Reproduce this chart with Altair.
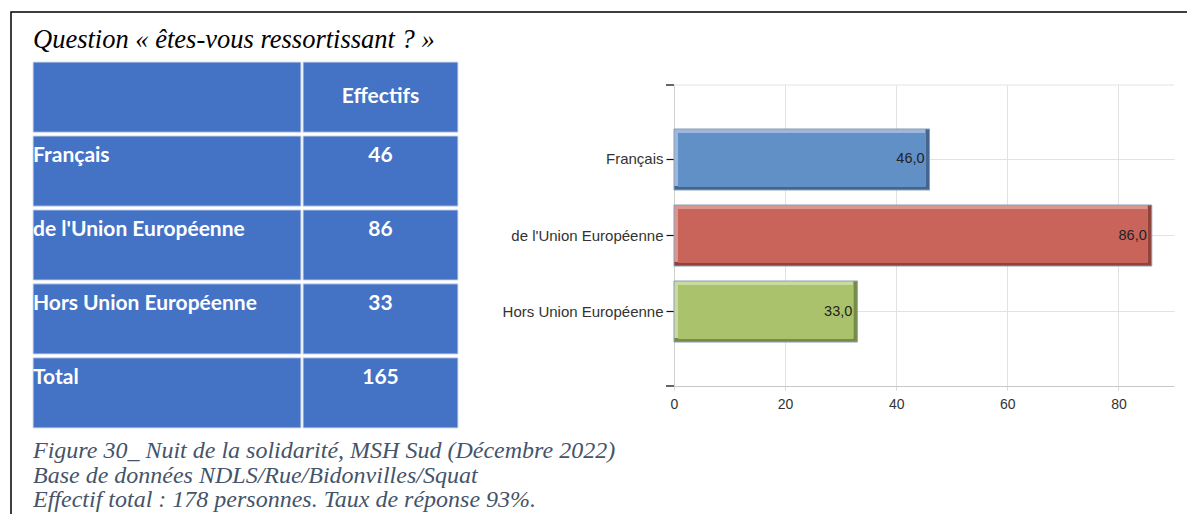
import altair as alt
import pandas as pd

# ---------------- data ----------------
title_text = "Question « êtes-vous ressortissant ? »"
categories = ["Français", "de l'Union Européenne", "Hors Union Européenne"]
counts = [46, 86, 33]
total_label = "Total"
total_count = 165
header_label = "Effectifs"
caption_lines = [
    "Figure 30_ Nuit de la solidarité, MSH Sud (Décembre 2022)",
    "Base de données NDLS/Rue/Bidonvilles/Squat",
    "Effectif total : 178 personnes. Taux de réponse 93%.",
]
x_ticks = [0, 20, 40, 60, 80]

# ---------------- styles ----------------
body_colors = ["#6090C6", "#C9645B", "#AAC26B"]
light_colors = ["#9CB7DB", "#DC958E", "#C9DA9E"]
dark_colors = ["#44658F", "#90433B", "#788B44"]
table_blue = "#4472C4"

# layout (page pixels) -> plot-relative pixels
X0, Y0 = 674, 85
W, H = 500, 301
def px(v):
    return v - X0
def py(v):
    return v - Y0

# ---------------- tables ----------------
bdf = pd.DataFrame({
    "cat": categories,
    "v": counts,
    "start": [0] * len(categories),
    "body": body_colors,
    "light": light_colors,
    "dark": dark_colors,
})

row_keys = ["_header"] + categories + [total_label]
tdf = pd.DataFrame({
    "row": row_keys,
    "col": ["c"] * len(row_keys),
    "label": [""] + categories + [total_label],
    "value": [header_label] + [str(c) for c in counts] + [str(total_count)],
    "is_header": [True] + [False] * (len(row_keys) - 1),
})

# ---------------- decorations ----------------
one = pd.DataFrame({"a": [0]})

frame = alt.Chart(one).mark_rect(fill="white", fillOpacity=0, stroke="black", strokeWidth=1.5).encode(
    x=alt.value(px(11)), x2=alt.value(px(1220)), y=alt.value(py(12)), y2=alt.value(py(560))
)

title = alt.Chart(pd.DataFrame({"t": [title_text]})).mark_text(
    align="left", baseline="alphabetic", font="Liberation Serif", fontStyle="italic",
    fontSize=26.5, color="black"
).encode(x=alt.value(px(33)), y=alt.value(py(48)), text="t:N")

caption = alt.Chart(pd.DataFrame({"t": ["\n".join(caption_lines)]})).mark_text(
    align="left", baseline="alphabetic", font="Liberation Serif", fontStyle="italic",
    fontSize=24, color="#44546A", lineBreak="\n", lineHeight=24.5
).encode(x=alt.value(px(33)), y=alt.value(py(458)), text="t:N")

# ---------------- table ----------------
tbl_y = alt.Scale(type="band", domain=row_keys, range=[py(62), py(428)], paddingInner=0.05, paddingOuter=0)
col1_x = alt.Scale(type="band", domain=["c"], range=[px(33), px(301)], paddingInner=0, paddingOuter=0)
col2_x = alt.Scale(type="band", domain=["c"], range=[px(303), px(458)], paddingInner=0, paddingOuter=0)

cells1 = alt.Chart(tdf).mark_rect(color=table_blue, stroke="#d6def0", strokeWidth=1).encode(
    x=alt.X("col:N", scale=col1_x, axis=None),
    y=alt.Y("row:N", scale=tbl_y, axis=None),
)
cells2 = alt.Chart(tdf).mark_rect(color=table_blue, stroke="#d6def0", strokeWidth=1).encode(
    x=alt.X("col:N", scale=col2_x, axis=None),
    y=alt.Y("row:N", scale=tbl_y, axis=None),
)
tfont = dict(font="Lato", fontWeight="bold", fontSize=21, color="white")
labels_txt = alt.Chart(tdf).mark_text(align="left", baseline="middle", dy=20, dx=0, **tfont).encode(
    x=alt.X("col:N", scale=col1_x, axis=None, bandPosition=0),
    y=alt.Y("row:N", scale=tbl_y, axis=None, bandPosition=0),
    text="label:N",
)
values_txt = alt.Chart(tdf).transform_filter("!datum.is_header").mark_text(
    align="center", baseline="middle", dy=20, **tfont
).encode(
    x=alt.X("col:N", scale=col2_x, axis=None, bandPosition=0.5),
    y=alt.Y("row:N", scale=tbl_y, axis=None, bandPosition=0),
    text="value:N",
)
header_txt = alt.Chart(tdf).transform_filter("datum.is_header").mark_text(
    align="center", baseline="middle", **tfont
).encode(
    x=alt.X("col:N", scale=col2_x, axis=None, bandPosition=0.5),
    y=alt.Y("row:N", scale=tbl_y, axis=None, bandPosition=0.5),
    text="value:N",
)

# ---------------- bar chart ----------------
yax = alt.Axis(
    title=None, labelFont="Liberation Sans", labelFontSize=15, labelColor="#333333",
    labelPadding=3, tickColor="#111111", tickSize=8, tickWidth=1.2,
    domainColor="#d0d0d0", grid=True, gridColor="#e2e2e2", bandPosition=0.5,
)
xax = alt.Axis(
    title=None, values=x_ticks, format="d", labelFont="Liberation Sans", labelFontSize=14,
    labelColor="#333333", labelPadding=7, tickColor="#d8d8d8", tickSize=4, labelFlush=False,
    domainColor="#c8c8c8", grid=True, gridColor="#e2e2e2",
)
yenc = alt.Y("cat:N", sort=categories,
             scale=alt.Scale(domain=categories, paddingInner=0.2, paddingOuter=0.58), axis=yax)
xscale = alt.Scale(domain=[0, 90], nice=False, zero=True)

base = alt.Chart(bdf).encode(
    y=yenc,
    x=alt.X("start:Q", scale=xscale, axis=xax),
    x2="v:Q",
)
bar_dark = base.mark_bar(height=61).encode(color=alt.Color("dark:N", scale=None))
bar_light = base.mark_bar(height=57, yOffset=-2, x2Offset=-4).encode(color=alt.Color("light:N", scale=None))
bar_body = base.mark_bar(height=54, yOffset=0.5, xOffset=4, x2Offset=-4).encode(color=alt.Color("body:N", scale=None))
bar_outline = base.mark_bar(height=61, fill="white", fillOpacity=0, stroke="#8A9EB8", strokeWidth=1)
bar_text = alt.Chart(bdf).transform_calculate(
    lab="replace(format(datum.v, '.1f'), '.', ',')"
).mark_text(align="right", baseline="middle", dx=-5, font="Liberation Sans", fontSize=14.5, color="#222222").encode(
    y=yenc, x=alt.X("v:Q", scale=xscale, axis=xax), text="lab:N"
)

top_line = alt.Chart(one).mark_rule(color="#e2e2e2", strokeWidth=1).encode(
    x=alt.value(0), x2=alt.value(W), y=alt.value(0)
)
tick_top = alt.Chart(one).mark_rule(color="#333333", strokeWidth=1.5).encode(
    x=alt.value(-8), x2=alt.value(0), y=alt.value(0)
)
tick_bot = alt.Chart(one).mark_rule(color="#333333", strokeWidth=1.5).encode(
    x=alt.value(-8), x2=alt.value(0), y=alt.value(H)
)

bars = alt.layer(top_line, bar_dark, bar_light, bar_body, bar_outline, bar_text, tick_top, tick_bot)

chart = alt.layer(
    frame, title, caption, cells1, cells2, labels_txt, values_txt, header_txt, bars
).resolve_scale(x="independent", y="independent").properties(
    width=W, height=H,
    padding={"left": X0 - 8, "top": Y0 - 8, "right": 1187 - (X0 + W), "bottom": 506 - (Y0 - 8) - H},
    autosize=alt.AutoSizeParams(type="none"),
    background="white",
).configure_view(stroke=None)

chart.save("out.html", embed_options={"renderer": "svg", "actions": False})
